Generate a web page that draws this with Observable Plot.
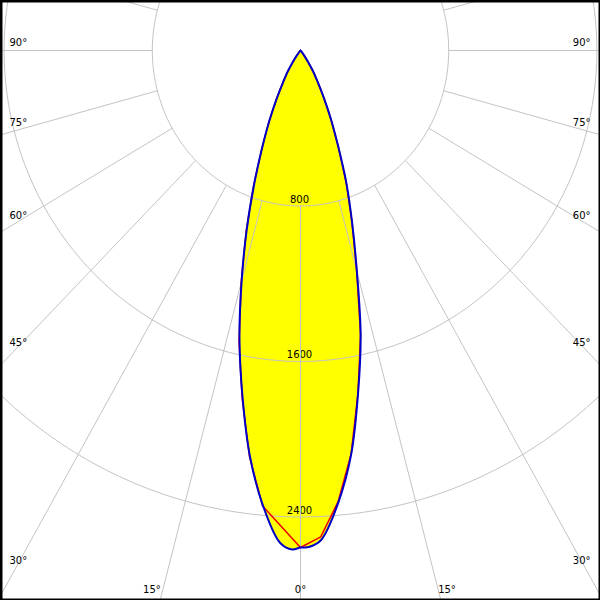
<!DOCTYPE html>
<html><head><meta charset="utf-8">
<script src="https://cdn.jsdelivr.net/npm/d3@7"></script>
<script src="https://cdn.jsdelivr.net/npm/@observablehq/plot@0.6"></script>
<style>html,body{margin:0;padding:0;background:#fff}</style>
</head><body><div id="chart"></div>
<script>
// Luminous intensity (cd) by angle from nadir (negative = left half-plane)
const blueAngles = [-45,-42.5,-40,-37.5,-35,-32.5,-30,-27.5,-25,-22.5,-20,-17.5,-15,-12.5,-10,-7.5,-5,-2.5,-1,0,1,2.5,5,7.5,10,12.5,15,17.5,20,22.5,25,27.5,30,32.5,35,37.5,40,42.5,45];
const blueValues = [0,3,12,35,68,127,186,276,396,540,732,965,1228,1522,1805,2100,2345,2535,2568,2557,2555,2522,2336,2096,1790,1500,1175,925,722,528,387,270,182,125,66,33,11,3,0];
const redAngles = [-45,-42.5,-40,-37.5,-35,-32.5,-30,-27.5,-25,-22.5,-20,-17.5,-15,-12.5,-10,-7.5,-5,0,2.5,5,7.5,10,12.5,15,17.5,20,22.5,25,27.5,30,32.5,35,37.5,40,42.5,45];
const redValues = [0,3,12,36,69,128,188,279,400,545,740,975,1238,1532,1815,2108,2352,2557,2505,2330,2094,1788,1498,1173,923,720,527,386,269,181,124,65,33,11,3,0];
const ringValues = [800,1600,2400];
const ringLabels = ["800","1600","2400"];
const spokeAngles = [-180,-165,-150,-135,-120,-105,-90,-75,-60,-45,-30,-15,0,15,30,45,60,75,90,105,120,135,150,165];
const sideLabelAngles = [30,45,60,75,90];
const bottomLabelAngles = [0,15];

const W = 600, H = 600;
const xDomain = [-1619.4, 1619.4];
const yDomain = [-257.2, 2829.6];
const kx = W / (xDomain[1] - xDomain[0]);
const ky = H / (yDomain[1] - yDomain[0]);
const rad = d => d * Math.PI / 180;
const pt = (a, I) => ({x: I * Math.sin(rad(a)), y: I * Math.cos(rad(a))});

const blue = blueAngles.map((a, i) => pt(a, blueValues[i]));
const red = redAngles.map((a, i) => pt(a, redValues[i]));

const rings = [];
ringValues.forEach(r => { for (let d = 0; d <= 360; d += 2) rings.push({...pt(d, r), ring: r}); });

const spokes = spokeAngles.map(a => ({a, ...pt(a, 800), x2: 8000 * Math.sin(rad(a)), y2: 8000 * Math.cos(rad(a))}));

// side labels: at the spoke position near the frame edge, nudged up
const sideX = 282 / kx;
const side = sideLabelAngles.map(a => ({
  a, text: a + "°",
  y: sideX * Math.cos(rad(a)) / Math.sin(rad(a)) - 8 * Math.sin(rad(a)) ** 2 / ky
}));
const leftX = (9 - W / 2) / kx, rightX = (590 - W / 2) / kx;
const bottomY = (589 - 50) / ky;
const bottom = bottomLabelAngles.map(a => ({a, text: a + "°", x: bottomY * Math.tan(rad(a))}));

const font = {fontFamily: "DejaVu Sans", fontSize: 10, fill: "black"};

const chart = Plot.plot({
  width: W, height: H,
  margin: 0,
  x: {domain: xDomain, range: [0, W], axis: null},
  y: {domain: yDomain, range: [0, H], axis: null},
  style: {background: "white", fontFamily: "DejaVu Sans"},
  marks: [
    Plot.line(blue, {x: "x", y: "y", fill: "#ffff00", stroke: "none", curve: "catmull-rom"}),
    Plot.text(ringValues, {x: 0, y: d => d, text: (d, i) => ringLabels[i], dy: -6.5, dx: -1, textAnchor: "middle", ...font}),
    Plot.line(rings, {x: "x", y: "y", z: "ring", stroke: "#c4c4c4", strokeWidth: 1, clip: true}),
    Plot.link(spokes, {x1: "x", y1: "y", x2: "x2", y2: "y2", stroke: "#c4c4c4", strokeWidth: 1, clip: true}),
    Plot.line(red, {x: "x", y: "y", stroke: "#ee0000", strokeWidth: 1.5}),
    Plot.line(blue, {x: "x", y: "y", stroke: "#0000c8", strokeWidth: 2, curve: "catmull-rom"}),
    Plot.text(side, {x: leftX, y: "y", text: "text", textAnchor: "start", ...font}),
    Plot.text(side, {x: rightX, y: "y", text: "text", textAnchor: "end", ...font}),
    Plot.text(bottom.filter(d => d.a === 0), {x: "x", y: bottomY, text: "text", textAnchor: "middle", ...font}),
    Plot.text(bottom.filter(d => d.a > 0), {x: d => -d.x, y: bottomY, text: "text", textAnchor: "end", dx: -2, ...font}),
    Plot.text(bottom.filter(d => d.a > 0), {x: "x", y: bottomY, text: "text", textAnchor: "start", ...font}),
    Plot.frame({stroke: "black", strokeWidth: 4})
  ]
});
document.getElementById("chart").appendChild(chart);
</script>
</body></html>
